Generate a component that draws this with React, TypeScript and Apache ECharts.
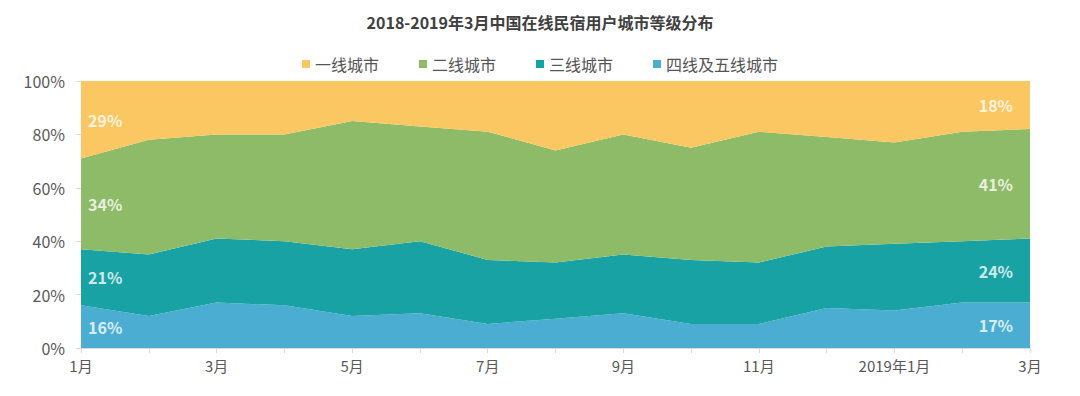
import React, { useEffect, useRef } from "react";
import * as echarts from "echarts";

const categories = ["2018-01","2018-02","2018-03","2018-04","2018-05","2018-06","2018-07","2018-08","2018-09","2018-10","2018-11","2018-12","2019-01","2019-02","2019-03"];
const xLabels = ["1月","2月","3月","4月","5月","6月","7月","8月","9月","10月","11月","12月","2019年1月","2月","3月"];
const tier1 = [29,22,20,20,15,17,19,26,20,25,19,21,23,19,18];
const tier2 = [34,43,39,40,48,43,48,42,45,42,49,41,38,41,41];
const tier3 = [21,23,24,24,25,27,24,21,22,24,23,23,25,23,24];
const tier45 = [16,12,17,16,12,13,9,11,13,9,9,15,14,17,17];
const seriesNames = ["一线城市","二线城市","三线城市","四线及五线城市"];
const colors = ["#FAC762","#8EBB67","#19A2A3","#4CADD3"];
const FONT = "'Noto Sans CJK SC', 'Noto Sans', sans-serif";

export default function App() {
  const ref = useRef<HTMLDivElement>(null);
  useEffect(() => {
    if (!ref.current) return;
    const chart = echarts.init(ref.current, null, { renderer: "svg" });
    // bottom-up stacking order
    const stackOrder = [tier45, tier3, tier2, tier1];
    const stackColors = [colors[3], colors[2], colors[1], colors[0]];
    const stackNames = [seriesNames[3], seriesNames[2], seriesNames[1], seriesNames[0]];
    const labelPoints: any[] = [];
    [0, categories.length - 1].forEach((idx) => {
      let base = 0;
      stackOrder.forEach((arr) => {
        const v = arr[idx];
        const isLeft = idx === 0;
        labelPoints.push({
          value: [idx, base + v / 2],
          label: {
            formatter: v + "%",
            align: isLeft ? "left" : "right",
            offset: isLeft ? [7, 0] : [-17, 0],
          },
        });
        base += v;
      });
    });
    chart.setOption({
      animation: false,
      textStyle: { fontFamily: FONT },
      title: {
        text: "2018-2019年3月中国在线民宿用户城市等级分布",
        left: "center",
        top: 1,
        textStyle: { fontSize: 16, fontWeight: "bold", color: "#404040", fontFamily: FONT },
      },
      legend: {
        data: seriesNames,
        top: 43,
        left: "center",
        icon: "rect",
        itemWidth: 8,
        itemHeight: 8,
        itemGap: 40,
        textStyle: { fontSize: 16, color: "#555", fontFamily: FONT },
      },
      grid: { left: 73, right: 42, top: 73, bottom: 40 },
      xAxis: {
        type: "category",
        data: categories,
        boundaryGap: false,
        axisLine: { lineStyle: { color: "#d9d9d9" } },
        axisTick: { show: true, length: 5, lineStyle: { color: "#d9d9d9" }, interval: 0 },
        axisLabel: {
          interval: 1,
          formatter: (_v: string, i: number) => xLabels[i],
          fontSize: 15,
          color: "#595959",
          margin: 10,
          fontFamily: FONT,
        },
      },
      yAxis: {
        type: "value",
        min: 0,
        max: 100,
        interval: 20,
        axisLine: { show: true, lineStyle: { color: "#d9d9d9" } },
        axisTick: { show: true, length: 5, lineStyle: { color: "#d9d9d9" } },
        splitLine: { show: false },
        axisLabel: { formatter: "{value}%", fontSize: 16, color: "#595959", margin: 16, fontFamily: FONT },
      },
      series: [
        ...stackOrder.map((arr, i) => ({
          name: stackNames[i],
          type: "line",
          stack: "total",
          data: arr,
          symbol: "none",
          lineStyle: { width: 0 },
          itemStyle: { color: stackColors[i] },
          areaStyle: { color: stackColors[i], opacity: 1 },
          z: 2,
        })),
        {
          name: "labels",
          type: "scatter",
          symbolSize: 0,
          silent: true,
          data: labelPoints,
          z: 5,
          label: {
            show: true,
            position: "inside",
            color: "#ffffff",
            fontSize: 16,
            fontWeight: "bold",
            fontFamily: FONT,
          },
        },
      ],
    });
    return () => chart.dispose();
  }, []);
  return <div ref={ref} style={{ width: 1064, height: 380 }} />;
}
